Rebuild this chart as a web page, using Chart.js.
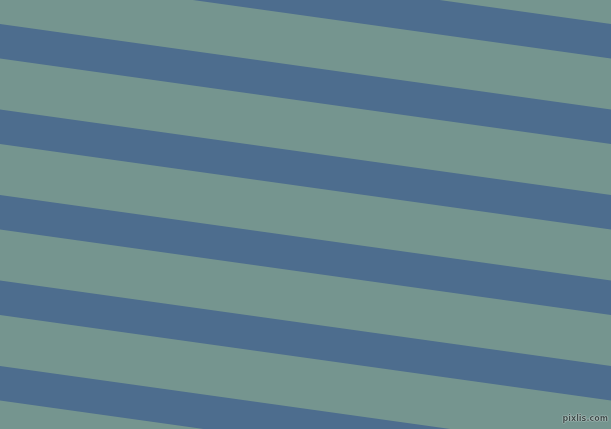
<!DOCTYPE html>
<html>
<head>
<meta charset="utf-8">
<script src="https://cdn.jsdelivr.net/npm/chart.js@4/dist/chart.umd.min.js"></script>
<style>
  html, body { margin: 0; padding: 0; background: #75958f; }
  #wrap { position: relative; width: 611px; height: 429px; overflow: hidden; background: #75958f; }
  #mark {
    position: absolute; right: 3px; bottom: 6px;
    font: bold 8px "DejaVu Sans", sans-serif; color: #3f4d4b;
    text-shadow: 0 0 1px #d8e2e0, 0 0 1px #d8e2e0, 0 0 1px #d8e2e0;
  }
</style>
</head>
<body>
<div id="wrap">
  <canvas id="chart"></canvas>
  <div id="mark">pixlis.com</div>
</div>
<script>
// ==== データ ====
// 縞の上端・下端の y 座標（左端 x=0 と右端 x=611 の値）
const X_EDGES      = [0, 611];
const TOP_LEFT     = [-61.5, 24, 109.5, 195, 280.5, 366];
const TOP_RIGHT    = [24, 109.5, 195, 280.5, 366, 451.5];
const BOTTOM_LEFT  = [-27, 58.5, 144, 229.5, 315, 400.5];
const BOTTOM_RIGHT = [58.5, 144, 229.5, 315, 400.5, 486];

const STRIPE_COLOR = "#4d6d8e";

// 縞ごとに「上端」「下端(上端まで塗る)」の2本をつくる
const datasets = [];
TOP_LEFT.forEach((_, i) => {
  datasets.push({
    data: [{ x: X_EDGES[0], y: TOP_LEFT[i] }, { x: X_EDGES[1], y: TOP_RIGHT[i] }],
    borderWidth: 0, pointRadius: 0, fill: false
  });
  datasets.push({
    data: [{ x: X_EDGES[0], y: BOTTOM_LEFT[i] }, { x: X_EDGES[1], y: BOTTOM_RIGHT[i] }],
    borderWidth: 0, pointRadius: 0,
    fill: "-1", backgroundColor: STRIPE_COLOR
  });
});

new Chart(document.getElementById("chart"), {
  type: "line",
  data: { datasets },
  options: {
    responsive: true,
    maintainAspectRatio: false,
    animation: false,
    layout: { padding: 0 },
    scales: {
      x: { type: "linear", min: 0, max: 611, display: false },
      y: { type: "linear", min: 0, max: 429, reverse: true, display: false }
    },
    plugins: { legend: { display: false }, tooltip: { enabled: false } }
  }
});
</script>
</body>
</html>
